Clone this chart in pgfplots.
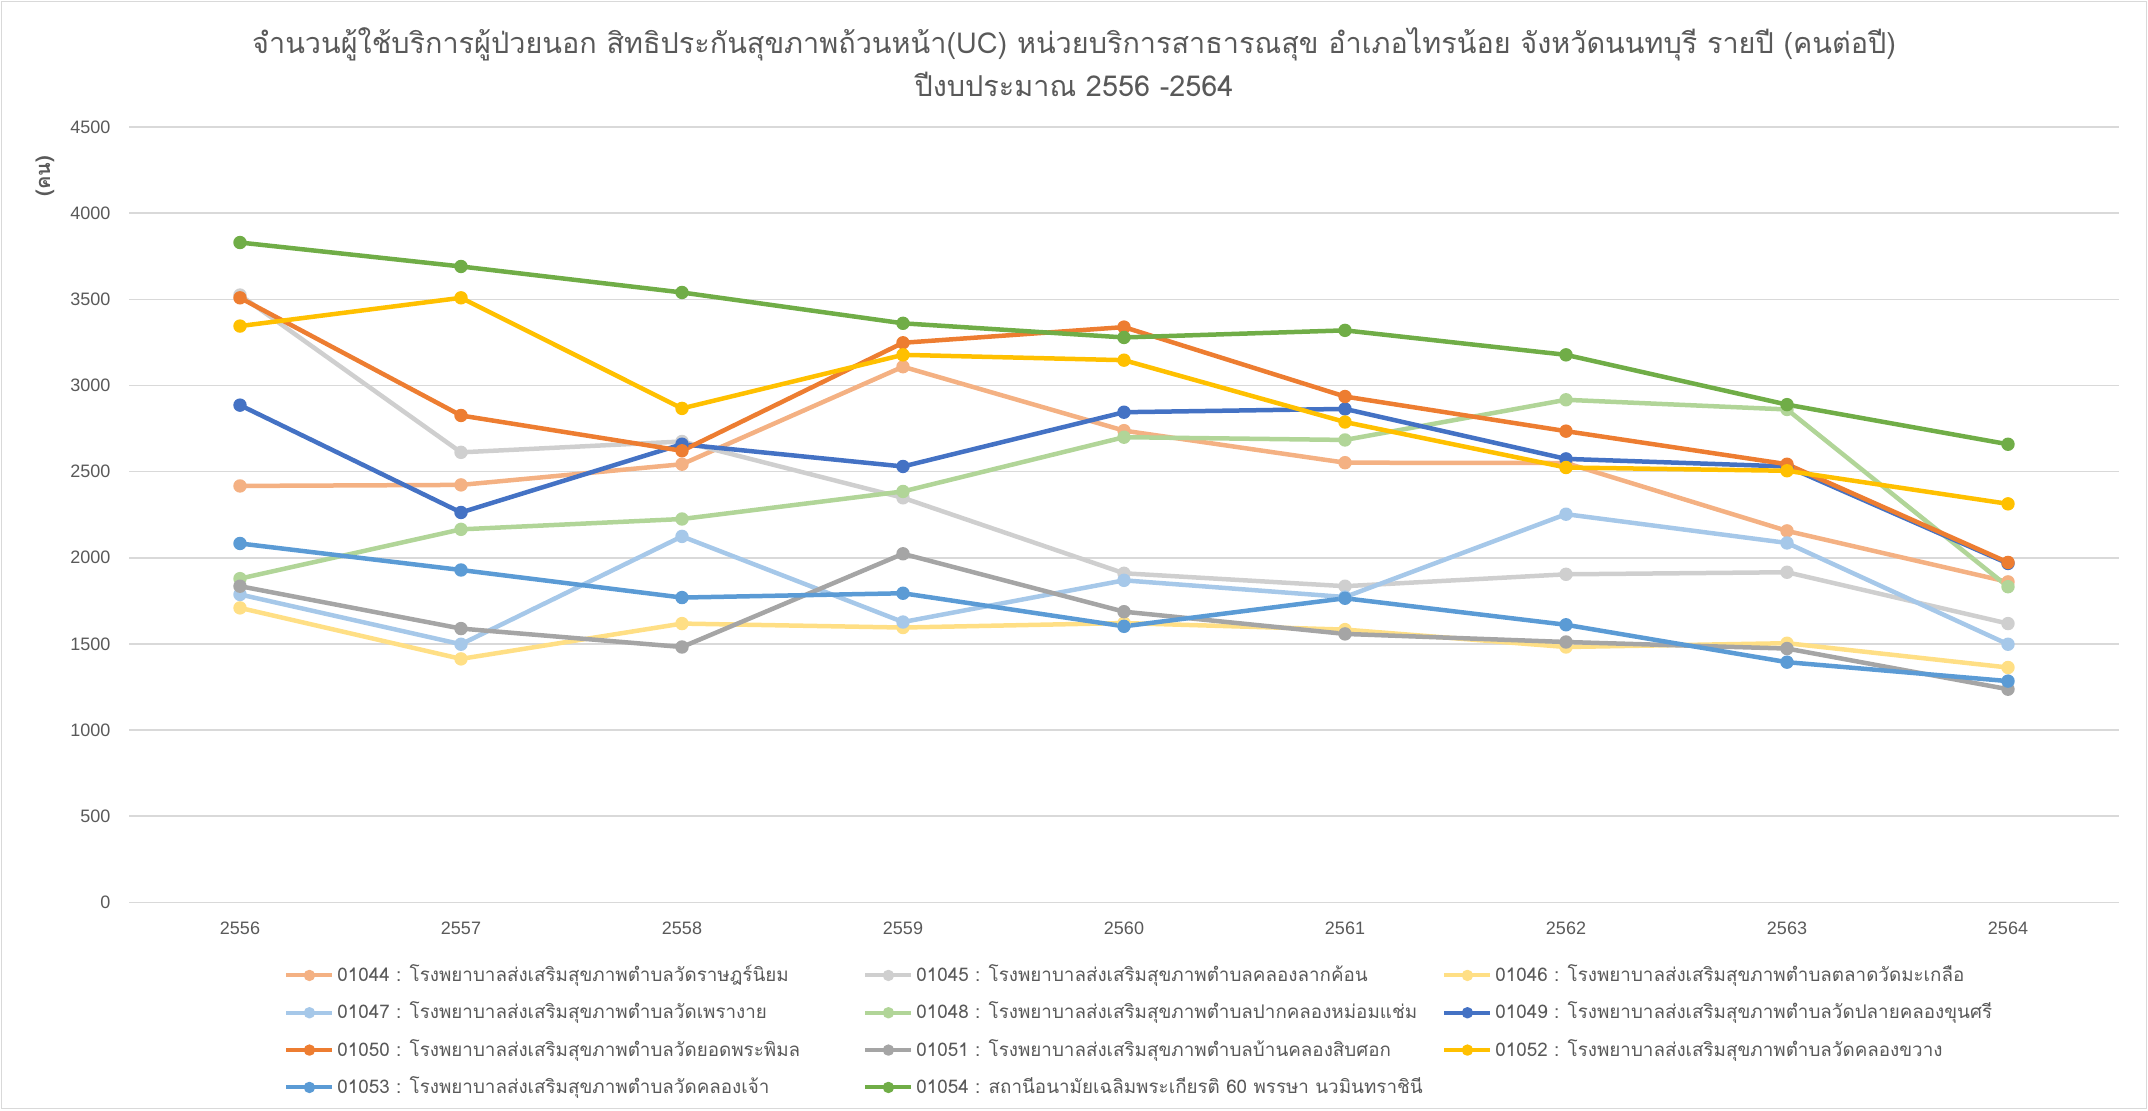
\documentclass[border=0pt]{standalone}
\usepackage{fontspec}
\setmainfont[Script=Thai]{Loma}
\newfontfamily\tickfont{Liberation Sans}
\usepackage{pgfplots}
\pgfplotsset{compat=1.18}
\definecolor{txt}{HTML}{595959}
\definecolor{gridc}{HTML}{D9D9D9}
\definecolor{c44}{HTML}{F4B183}
\definecolor{c45}{HTML}{CFCFCF}
\definecolor{c46}{HTML}{FFDF85}
\definecolor{c47}{HTML}{A6C8E9}
\definecolor{c48}{HTML}{B1D598}
\definecolor{c49}{HTML}{4472C4}
\definecolor{c50}{HTML}{ED7D31}
\definecolor{c51}{HTML}{A5A5A5}
\definecolor{c52}{HTML}{FFC000}
\definecolor{c53}{HTML}{5B9BD5}
\definecolor{c54}{HTML}{70AD47}
\newcommand\legent[1]{\addlegendentry{\makebox[263pt][l]{#1}}}
\begin{document}
\begin{tikzpicture}
\begin{axis}[
  at={(0,0)}, anchor=south west,
  scale only axis, width=994.5pt, height=387.6pt,
  xmin=-0.5, xmax=8.5, ymin=0, ymax=4500,
  xtick={0,1,2,3,4,5,6,7,8},
  xticklabels={2556,2557,2558,2559,2560,2561,2562,2563,2564},
  ytick={0,500,1000,1500,2000,2500,3000,3500,4000,4500},
  axis line style={draw=none},
  major tick length=0pt, tick style={draw=none},
  ymajorgrids, grid style={color=gridc, line width=0.75pt},
  ticklabel style={font=\tickfont\fontsize{9}{10}\selectfont, text=txt, inner sep=0pt},
  yticklabel style={xshift=-9.4pt},
  xticklabel style={yshift=-9.5pt},
  /pgf/number format/assume math mode=true,
  /pgf/number format/1000 sep={},
  clip=false,
  every axis plot/.append style={line width=2.25pt, mark=*, mark size=2.9pt, line join=round, mark options={line width=0.9pt}},
  legend image code/.code={\draw[mark repeat=2,mark phase=2, mark size=2.4pt, line width=2pt] plot coordinates {(0pt,0pt) (11.5pt,0pt) (23pt,0pt)};},
  legend columns=3,
  legend cell align=left,
  legend style={at={(0.0777,-0.0822)}, anchor=north west, draw=none, fill=none,
    inner sep=0pt, column sep=0pt, row sep=9.67pt,
    font=\fontsize{9.4}{11}\selectfont, text=txt,
    nodes={inner sep=0pt, text height=7.5pt, text depth=1.5pt, anchor=west},
    /tikz/every odd column/.append style={column sep=1.5pt}},
]
\addplot[c44] coordinates {(0,2417) (1,2423) (2,2543) (3,3109) (4,2738) (5,2552) (6,2550) (7,2156) (8,1860)};
\legent{01044 : โรงพยาบาลส่งเสริมสุขภาพตำบลวัดราษฎร์นิยม}
\addplot[c45] coordinates {(0,3525) (1,2612) (2,2675) (3,2348) (4,1910) (5,1835) (6,1904) (7,1916) (8,1618)};
\legent{01045 : โรงพยาบาลส่งเสริมสุขภาพตำบลคลองลากค้อน}
\addplot[c46] coordinates {(0,1709) (1,1413) (2,1618) (3,1595) (4,1621) (5,1583) (6,1482) (7,1504) (8,1363)};
\legent{01046 : โรงพยาบาลส่งเสริมสุขภาพตำบลตลาดวัดมะเกลือ}
\addplot[c47] coordinates {(0,1787) (1,1498) (2,2124) (3,1627) (4,1869) (5,1772) (6,2253) (7,2086) (8,1498)};
\legent{01047 : โรงพยาบาลส่งเสริมสุขภาพตำบลวัดเพรางาย}
\addplot[c48] coordinates {(0,1879) (1,2165) (2,2225) (3,2385) (4,2700) (5,2684) (6,2917) (7,2861) (8,1832)};
\legent{01048 : โรงพยาบาลส่งเสริมสุขภาพตำบลปากคลองหม่อมแช่ม}
\addplot[c49] coordinates {(0,2886) (1,2263) (2,2659) (3,2530) (4,2845) (5,2864) (6,2574) (7,2530) (8,1967)};
\legent{01049 : โรงพยาบาลส่งเสริมสุขภาพตำบลวัดปลายคลองขุนศรี}
\addplot[c50] coordinates {(0,3509) (1,2826) (2,2621) (3,3248) (4,3339) (5,2936) (6,2735) (7,2543) (8,1973)};
\legent{01050 : โรงพยาบาลส่งเสริมสุขภาพตำบลวัดยอดพระพิมล}
\addplot[c51] coordinates {(0,1835) (1,1589) (2,1482) (3,2023) (4,1687) (5,1558) (6,1511) (7,1473) (8,1237)};
\legent{01051 : โรงพยาบาลส่งเสริมสุขภาพตำบลบ้านคลองสิบศอก}
\addplot[c52] coordinates {(0,3345) (1,3509) (2,2867) (3,3178) (4,3147) (5,2788) (6,2524) (7,2505) (8,2313)};
\legent{01052 : โรงพยาบาลส่งเสริมสุขภาพตำบลวัดคลองขวาง}
\addplot[c53] coordinates {(0,2083) (1,1929) (2,1769) (3,1794) (4,1602) (5,1765) (6,1611) (7,1394) (8,1284)};
\legent{01053 : โรงพยาบาลส่งเสริมสุขภาพตำบลวัดคลองเจ้า}
\addplot[c54] coordinates {(0,3830) (1,3691) (2,3540) (3,3361) (4,3279) (5,3320) (6,3178) (7,2889) (8,2659)};
\legent{01054 : สถานีอนามัยเฉลิมพระเกียรติ 60 พรรษา นวมินทราชินี}
\end{axis}
\node[font=\fontsize{14.4}{16}\selectfont, text=txt] at (472.25pt,429.15pt) {จำนวนผู้ใช้บริการผู้ป่วยนอก สิทธิประกันสุขภาพถ้วนหน้า(UC) หน่วยบริการสาธารณสุข อำเภอไทรน้อย จังหวัดนนทบุรี รายปี (คนต่อปี)};
\node[font=\fontsize{14.4}{16}\selectfont, text=txt] at (472.25pt,409.15pt) {ปีงบประมาณ 2556 -2564};
\node[font=\fontsize{10}{12}\selectfont\bfseries, text=txt, rotate=90] at (-42.25pt,363.15pt) {(คน)};
\draw[color=gridc, line width=0.75pt] (-64.0pt,-103.1pt) rectangle (1008.5pt,450.4pt);
\pgfresetboundingbox
\path[use as bounding box] (-64.75pt,-103.85pt) rectangle (1009.25pt,451.15pt);
\end{tikzpicture}
\end{document}
